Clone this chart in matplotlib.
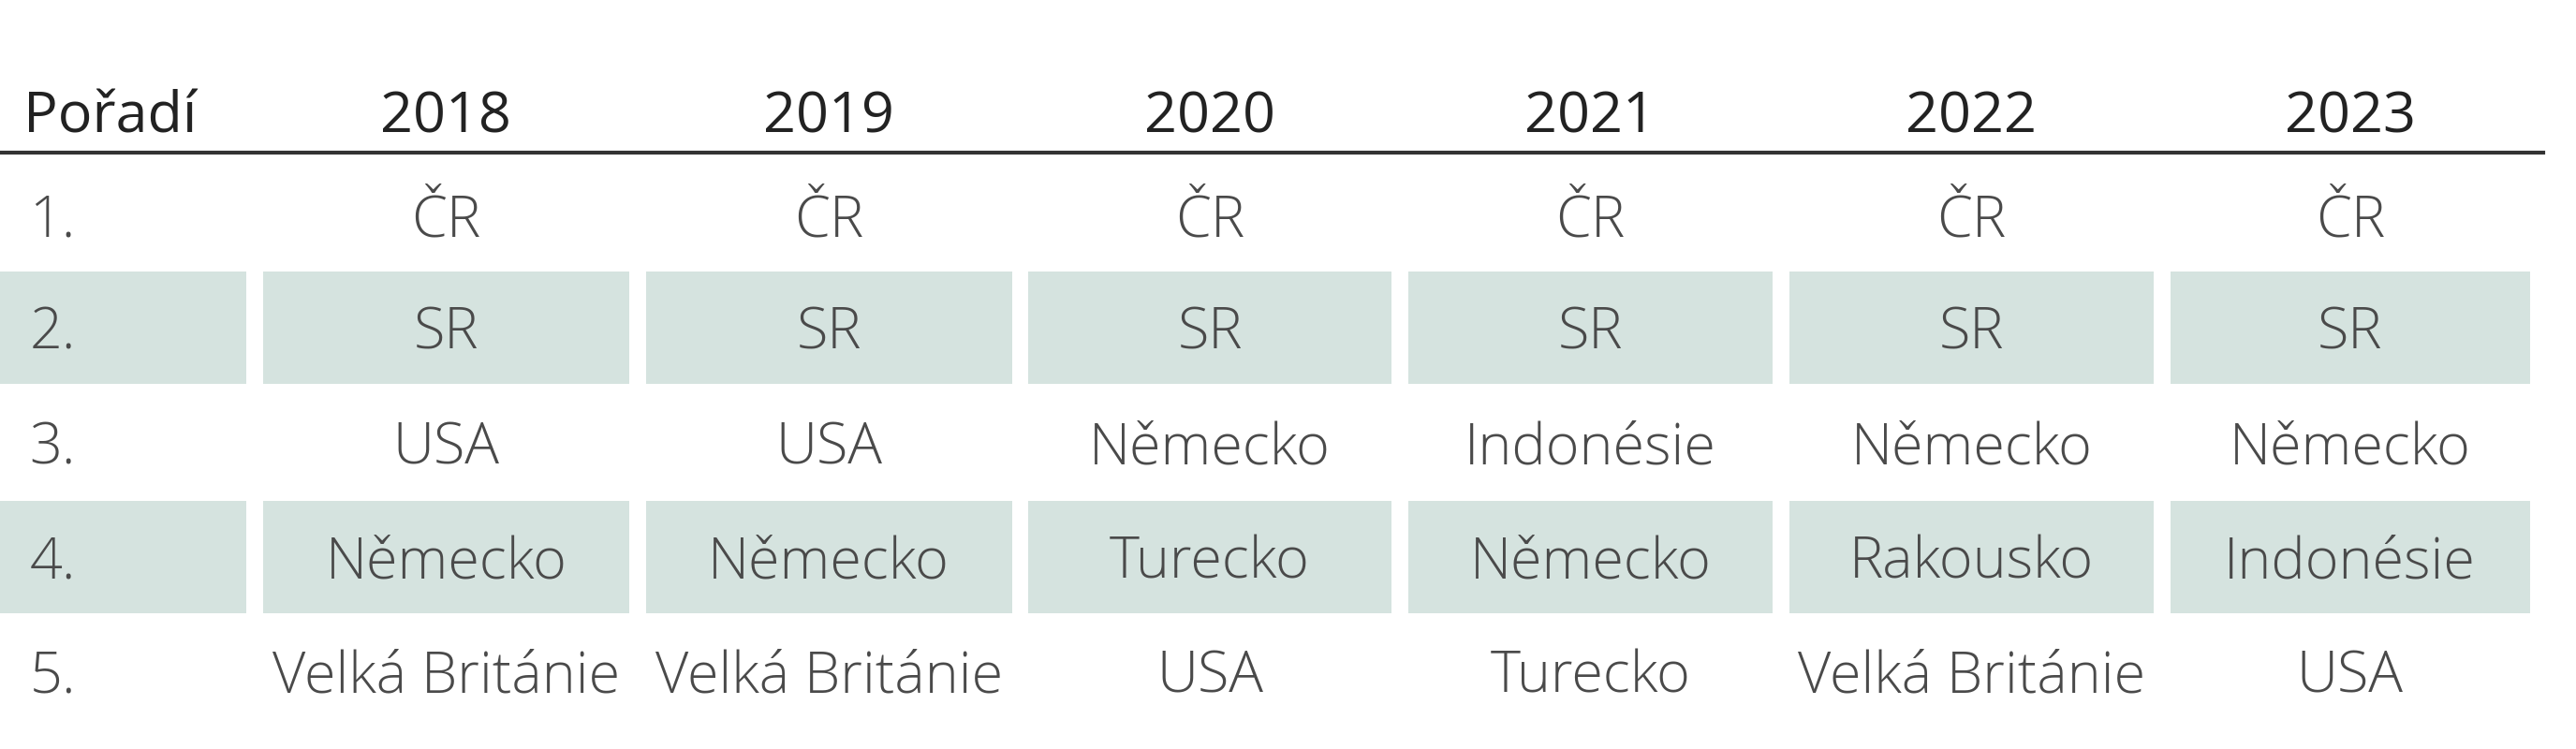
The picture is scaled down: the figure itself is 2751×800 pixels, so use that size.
import matplotlib.pyplot as plt
from matplotlib.patches import Rectangle

# ------------------------------------------------------------------------------
#  Data
# ------------------------------------------------------------------------------
years = ["2018", "2019", "2020", "2021", "2022", "2023"]
ranks = ["1.", "2.", "3.", "4.", "5."]
col_2018 = ["ČR", "SR", "USA", "Německo", "Velká Británie"]
col_2019 = ["ČR", "SR", "USA", "Německo", "Velká Británie"]
col_2020 = ["ČR", "SR", "Německo", "Turecko", "USA"]
col_2021 = ["ČR", "SR", "Indonésie", "Německo", "Turecko"]
col_2022 = ["ČR", "SR", "Německo", "Rakousko", "Velká Británie"]
col_2023 = ["ČR", "SR", "Německo", "Indonésie", "USA"]
columns = [col_2018, col_2019, col_2020, col_2021, col_2022, col_2023]

# ------------------------------------------------------------------------------
#  Layout (in reference pixel units, 1568 x 460)
# ------------------------------------------------------------------------------
W, H = 1568, 460
col_edges = [(0, 150), (160, 383), (393, 616), (626, 847),
             (857, 1079), (1089, 1311), (1321, 1540)]
row_y = [132, 201, 272, 342, 412]
row_h = 69
header_y = 68
line_y = 94
shade = "#d5e3df"
txt_col = "#4a4a4a"
FONT = "Open Sans"
FS = 44
DY = 4  # text baseline nudge

fig = plt.figure(figsize=(27.51, 8.0), dpi=100)
ax = fig.add_axes([0, 0, 1, 1])
ax.set_xlim(0, W)
ax.set_ylim(H, 0)
ax.axis("off")

# Shaded rows (2. and 4.)
for i, y in enumerate(row_y):
    if i % 2 == 1:
        for x0, x1 in col_edges:
            ax.add_patch(Rectangle((x0, y - row_h / 2), x1 - x0, row_h,
                                   color=shade, lw=0))

# Header
ax.text(14, header_y + DY, "Pořadí", ha="left", va="center", fontsize=FS,
        family=FONT, color="#222222")
for (x0, x1), yr in zip(col_edges[1:], years):
    ax.text((x0 + x1) / 2, header_y + DY, yr, ha="center", va="center",
            fontsize=FS, family=FONT, color="#222222")
ax.plot([0, 1548], [line_y, line_y], color="#333333", lw=3)

# Body
for i, y in enumerate(row_y):
    ax.text(18, y + DY, ranks[i], ha="left", va="center", fontsize=FS,
            family=FONT, color=txt_col, fontweight="light")
    for (x0, x1), col in zip(col_edges[1:], columns):
        ax.text((x0 + x1) / 2, y + DY, col[i], ha="center", va="center",
                fontsize=FS, family=FONT, color=txt_col, fontweight="light")

fig.savefig("out.png", dpi=100, facecolor="white")
